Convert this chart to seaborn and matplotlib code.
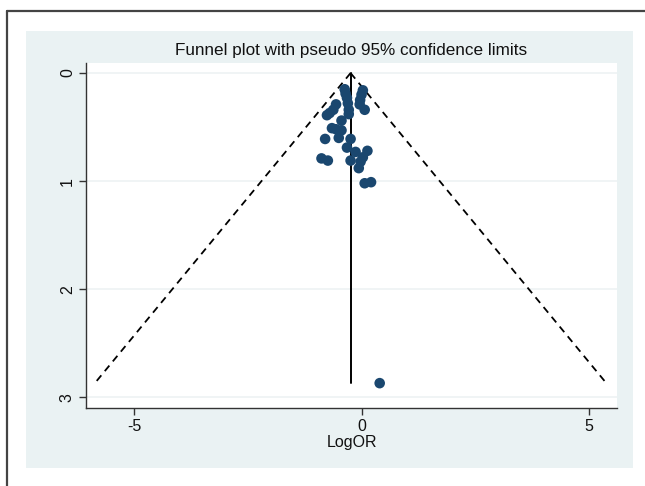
import matplotlib
matplotlib.use("Agg")
import matplotlib.pyplot as plt
import seaborn as sns
import pandas as pd
from matplotlib.patches import Rectangle
from matplotlib.lines import Line2D

# study estimates
log_or = [-0.37, -0.35, -0.32, -0.30, 0.03, 0.00, -0.03, -0.04, 0.07,
          -0.56, -0.62, -0.70, -0.76, -0.28, -0.28, -0.44, -0.65, -0.56,
          -0.44, -0.80, -0.50, -0.24, -0.32, -0.13, 0.13, 0.03, -0.02,
          -0.06, -0.24, -0.88, -0.74, 0.07, 0.21, 0.40]
se_log_or = [0.15, 0.19, 0.23, 0.28, 0.16, 0.20, 0.25, 0.29, 0.34,
             0.29, 0.34, 0.37, 0.39, 0.34, 0.38, 0.44, 0.51, 0.52,
             0.53, 0.61, 0.60, 0.61, 0.69, 0.73, 0.72, 0.78, 0.82,
             0.88, 0.81, 0.79, 0.81, 1.02, 1.01, 2.87]
pooled = -0.24
x_ticks = [-5, 0, 5]
y_ticks = [0, 1, 2, 3]

df = pd.DataFrame({"logor": log_or, "se": se_log_or})
se_max = max(se_log_or)
limits = pd.DataFrame({
    "se": [0, se_max, 0, se_max],
    "x": [pooled, pooled - 1.96 * se_max, pooled, pooled + 1.96 * se_max],
    "side": ["lo", "lo", "hi", "hi"],
})

sns.set_style("white")
plt.rcParams["font.family"] = ["Liberation Sans", "DejaVu Sans"]

fig = plt.figure(figsize=(6.45, 4.86), dpi=100)
fig.patch.set_facecolor("white")

# light panel behind the plot region
fig.add_artist(Rectangle((26 / 645, 1 - 468 / 486), 607 / 645, 437 / 486,
                         transform=fig.transFigure, facecolor="#EAF2F3",
                         edgecolor="none", zorder=0))
# outer frame (left and top edges only, rest is cropped)
fig.add_artist(Line2D([7 / 645, 7 / 645], [0, 1 - 11 / 486], transform=fig.transFigure,
                      color="#444444", lw=1.6))
fig.add_artist(Line2D([7 / 645, 1], [1 - 11 / 486, 1 - 11 / 486], transform=fig.transFigure,
                      color="#444444", lw=1.6))

ax = fig.add_axes([86 / 645, 1 - 408 / 486, 531 / 645, 345 / 486])
ax.set_facecolor("white")

for yv in y_ticks:
    ax.axhline(yv, color="#EEF2F3", lw=1.2, zorder=0)

sns.lineplot(data=limits[limits.side == "lo"], x="x", y="se", ax=ax,
             color="black", lw=1.3, linestyle=(0, (4, 3)), sort=False)
sns.lineplot(data=limits[limits.side == "hi"], x="x", y="se", ax=ax,
             color="black", lw=1.3, linestyle=(0, (4, 3)), sort=False)
ax.plot([pooled, pooled], [0, se_max], color="black", lw=1.4)
sns.scatterplot(data=df, x="logor", y="se", ax=ax, color="#1A476F",
                s=58, edgecolor="none", zorder=3)

ax.set_xlim(-6.06, 5.62)
ax.set_ylim(3.10, -0.093)
ax.set_xticks(x_ticks)
ax.set_yticks(y_ticks)
ax.set_xticklabels([str(v) for v in x_ticks], fontsize=11.5)
ax.set_yticklabels([str(v) for v in y_ticks], fontsize=11.5, rotation=90, va="center")
ax.tick_params(axis="both", direction="out", length=5, width=1, color="#333333",
               labelcolor="#111111", left=True, bottom=True, pad=3)
for side in ["top", "right"]:
    ax.spines[side].set_visible(False)
for side in ["left", "bottom"]:
    ax.spines[side].set_color("#333333")
    ax.spines[side].set_linewidth(1.0)

ax.set_xlabel("LogOR", fontsize=11.5, labelpad=1, color="#111111")
ax.set_ylabel("")
ax.set_title("Funnel plot with pseudo 95% confidence limits", fontsize=12.3, pad=6,
             color="#111111")

fig.savefig("out.png", dpi=100)
